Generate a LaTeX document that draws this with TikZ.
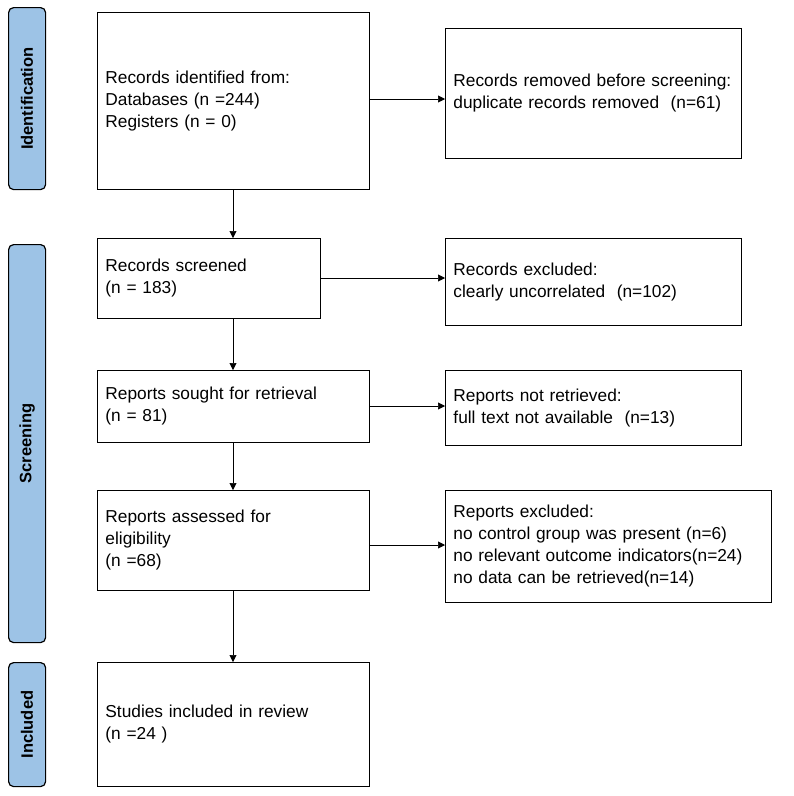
\documentclass[tikz,border=0pt]{standalone}
\usepackage{fontspec}
\setmainfont{Liberation Sans}
\usetikzlibrary{arrows.meta}
\definecolor{barblue}{HTML}{9DC3E6}
\begin{document}
\begin{tikzpicture}[x=1pt,y=-1pt,
  box/.style={draw,line width=0.9pt,rectangle,anchor=north west,inner sep=0pt,
    align=left,font=\fontsize{17.3}{22}\selectfont},
  bar/.style={draw,line width=1.2pt,fill=barblue,rounded corners=5pt,anchor=north west,inner sep=0pt},
  barlbl/.style={rotate=90,font=\bfseries\fontsize{16.5}{19}\selectfont},
  arr/.style={-{Triangle[length=7pt,width=7pt]},line width=0.6pt}]
\useasboundingbox (0,0) rectangle (794,796);
\node[bar,minimum width=37pt,minimum height=182pt] (b1) at (8,7) {};
\node[barlbl] (l1) at (b1.center) {Identification};
\node[bar,minimum width=37pt,minimum height=398pt] (b2) at (8,244) {};
\node[barlbl] (l2) at (b2.center) {Screening};
\node[bar,minimum width=37pt,minimum height=124pt] (b3) at (8,662) {};
\node[barlbl] (l3) at (b3.center) {Included};

\node[box,minimum width=272pt,minimum height=177pt,text width=256pt] (n1) at (97,12)
  {Records identified from:\\Databases (n =244)\\Registers (n = 0)};
\node[box,minimum width=296pt,minimum height=130pt,text width=280pt] (r1) at (445,28)
  {Records removed before screening:\\duplicate records removed\ \ (n=61)};
\node[box,minimum width=223pt,minimum height=80pt,text width=207pt] (n2) at (97,238)
  {Records screened\\(n = 183)};
\node[box,minimum width=296pt,minimum height=87pt,text width=280pt] (r2) at (445,238)
  {Records excluded:\\clearly uncorrelated\ \ (n=102)};
\node[box,minimum width=272pt,minimum height=72pt,text width=256pt] (n3) at (97,370)
  {Reports sought for retrieval\\(n = 81)};
\node[box,minimum width=296pt,minimum height=75pt,text width=280pt] (r3) at (445,370)
  {Reports not retrieved:\\full text not available\ \ (n=13)};
\node[box,minimum width=272pt,minimum height=100pt,text width=256pt] (n4) at (97,490)
  {Reports assessed for\\eligibility\\(n =68)};
\node[box,minimum width=326pt,minimum height=112pt,text width=310pt] (r4) at (445,490)
  {Reports excluded:\\no control group was present (n=6)\\no relevant outcome indicators(n=24)\\no data can be retrieved(n=14)};
\node[box,minimum width=272pt,minimum height=124pt,text width=256pt] (n5) at (97,662)
  {Studies included in review\\(n =24 )};

\draw[arr] (n1.south -| 233,0) -- (n2.north -| 233,0);
\draw[arr] (n2.south -| 233,0) -- (n3.north -| 233,0);
\draw[arr] (n3.south -| 233,0) -- (n4.north -| 233,0);
\draw[arr] (n4.south -| 233,0) -- (n5.north -| 233,0);
\draw[arr] (n1.east |- 0,99) -- (r1.west |- 0,99);
\draw[arr] (n2.east |- 0,278) -- (r2.west |- 0,278);
\draw[arr] (n3.east |- 0,406) -- (r3.west |- 0,406);
\draw[arr] (n4.east |- 0,545) -- (r4.west |- 0,545);
\end{tikzpicture}
\end{document}
